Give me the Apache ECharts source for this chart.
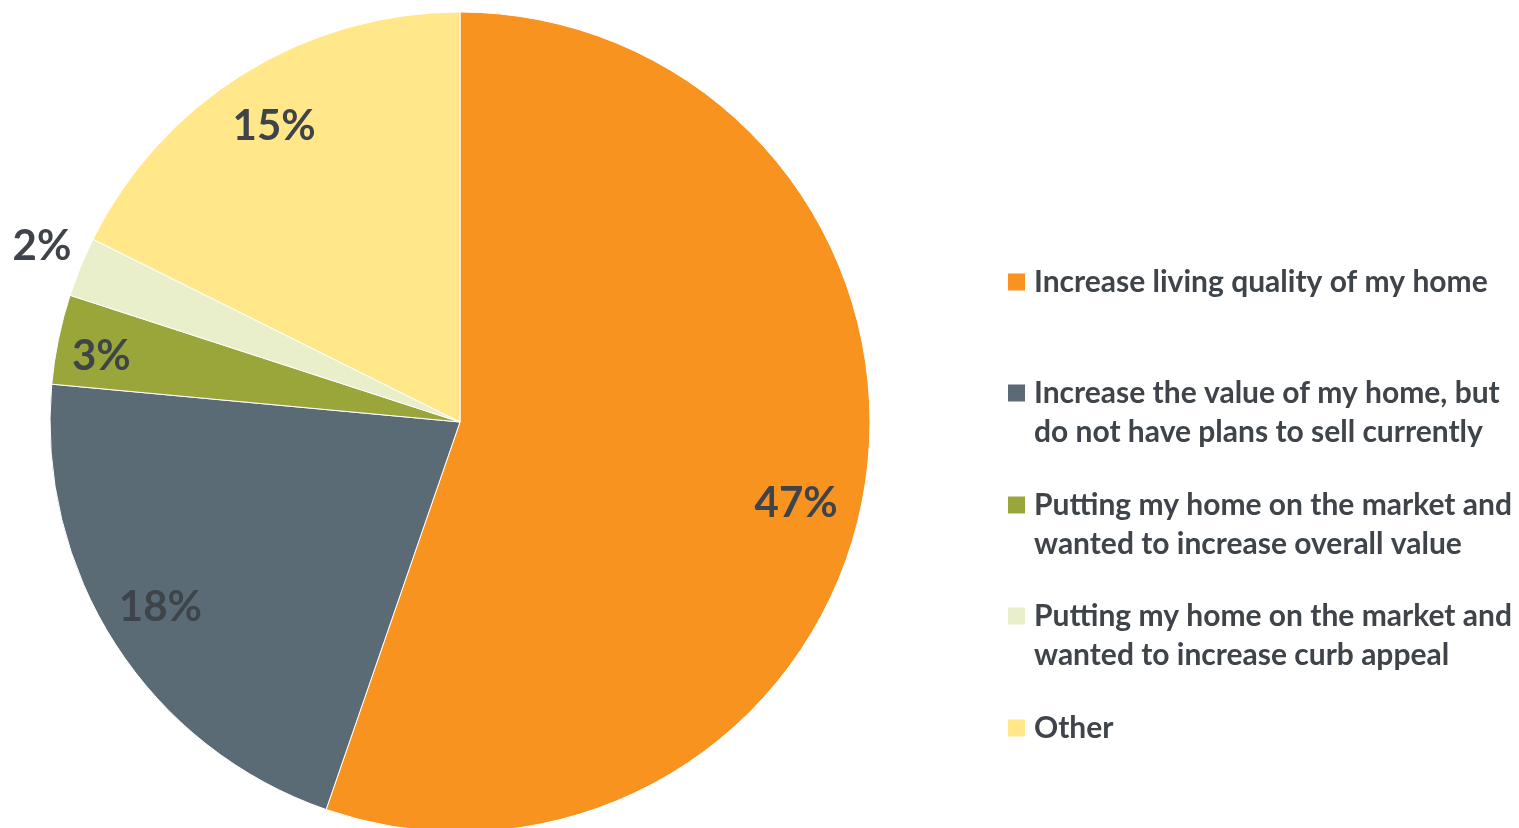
<!DOCTYPE html>
<html><head><meta charset="utf-8">
<script src="https://cdn.jsdelivr.net/npm/echarts@6/dist/echarts.min.js"></script>
<style>html,body{margin:0;padding:0;background:#fff}#c{width:1519px;height:828px}</style>
</head><body><div id="c"></div>
<script>
const categories = [
  'Increase living quality of my home',
  'Increase the value of my home, but\ndo not have plans to sell currently',
  'Putting my home on the market and\nwanted to increase overall value',
  'Putting my home on the market and\nwanted to increase curb appeal',
  'Other'
];
const values = [47, 18, 3, 2, 15];
const colors = ['#F7931E', '#5B6B75', '#9BA63A', '#E9EFCB', '#FFE78A'];
const outsideLabel = [false, false, false, true, false];

const textColor = '#3E4449';
const font = 'Lato';
const chart = echarts.init(document.getElementById('c'));
const center = [460, 422];
const R = 410;
// small label nudges (layout only), mimicking the original's best-fit placement
const labelNudge = [[-12, 23], [-3, -6], [-13, 6], [5, -3], [0, 5]];
const legendLineY = [282, 393, 505, 616, 728];

const mainData = categories.map((n, i) => ({ name: n, value: values[i], itemStyle: { color: colors[i] } }));
const innerLabelData = categories.map((n, i) => ({ name: n, value: values[i], label: { show: !outsideLabel[i], offset: labelNudge[i] } }));
const outerLabelData = categories.map((n, i) => ({ name: n, value: values[i], label: { show: outsideLabel[i], offset: labelNudge[i] } }));

const labelStyle = {
  position: 'inside', color: textColor, fontFamily: font, fontWeight: 'bold', fontSize: 42,
  formatter: p => p.value + '%'
};

const legends = categories.map((n, i) => {
  const twoLine = n.indexOf('\n') >= 0;
  return {
    orient: 'vertical', left: 1008, top: legendLineY[i] - 19.5 - (twoLine ? 39 : 0), padding: 0,
    data: [n], icon: 'rect', itemWidth: 17, itemHeight: 17, itemGap: 0,
    selectedMode: false,
    itemStyle: { borderWidth: 0 },
    formatter: name => (name.indexOf('\n') >= 0 ? '\n' : '') + name,
    textStyle: { color: textColor, fontFamily: font, fontWeight: 'bold', fontSize: 30, lineHeight: 39, padding: [0, 0, 0, 4] }
  };
});

chart.setOption({
  animation: false,
  legend: legends,
  series: [
    {
      type: 'pie', center: center, radius: R, startAngle: 90, clockwise: true,
      data: mainData, label: { show: false }, labelLine: { show: false },
      itemStyle: { borderColor: '#fff', borderWidth: 1 },
      emphasis: { disabled: true }, silent: true
    },
    {
      type: 'pie', center: center, radius: [290, R], startAngle: 90, clockwise: true,
      data: innerLabelData, itemStyle: { color: 'transparent' },
      label: labelStyle, labelLine: { show: false },
      emphasis: { disabled: true }, silent: true, legendHoverLink: false
    },
    {
      type: 'pie', center: center, radius: [440, 468], startAngle: 90, clockwise: true,
      data: outerLabelData, itemStyle: { color: 'transparent' },
      label: labelStyle, labelLine: { show: false },
      emphasis: { disabled: true }, silent: true, legendHoverLink: false
    }
  ]
});
</script></body></html>
